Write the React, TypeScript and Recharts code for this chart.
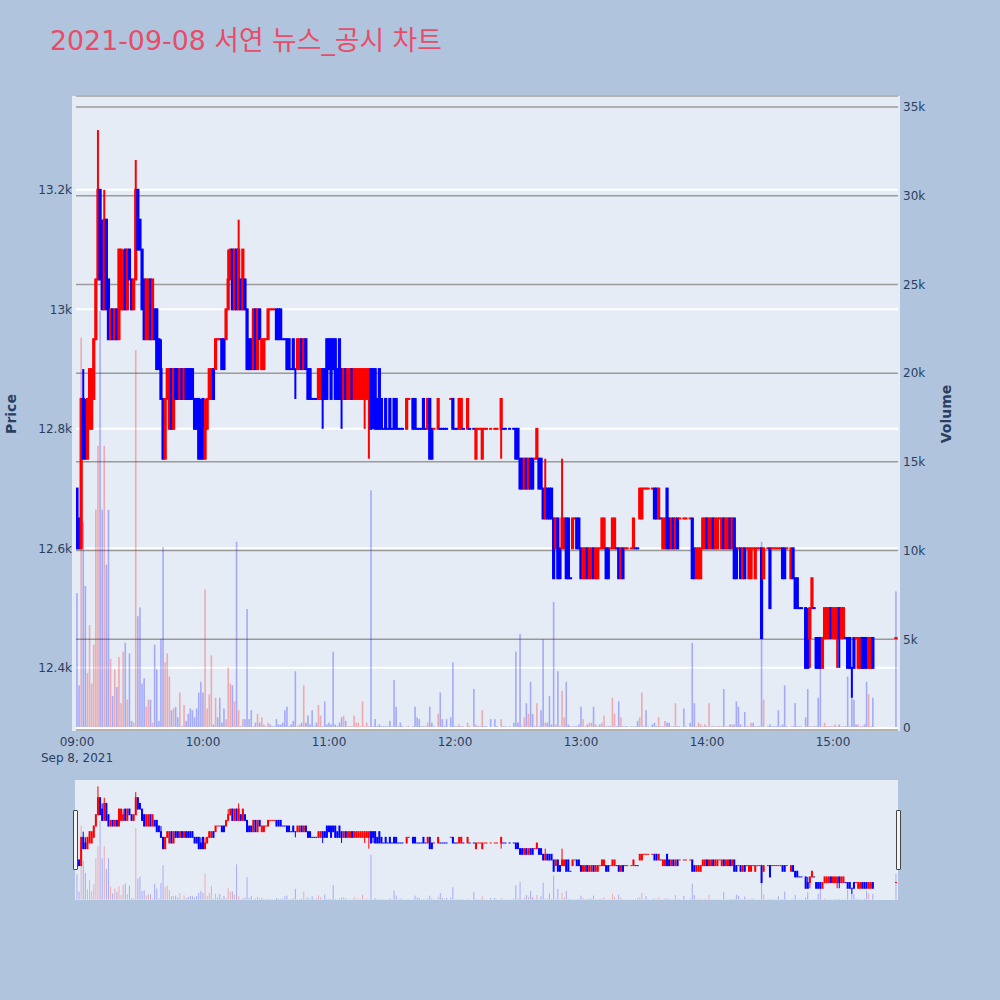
import React from 'react';
import { ComposedChart, Bar, XAxis, YAxis, CartesianGrid, ReferenceLine } from 'recharts';

// One row per minute: [open, high, low, close, volume]; null = no trade in that minute.
type Row = [number, number, number, number, number] | null;

const hour09: Row[] = [
  [12700,12700,12600,12600,7600],[12650,12650,12600,12600,2400],[12600,12850,12600,12850,22000],[12850,12900,12750,12750,11600],
  [12800,12850,12750,12750,8000],[12750,12850,12750,12850,3100],[12800,12900,12800,12900,5800],[12800,12900,12800,12900,2500],
  [12850,12950,12850,12950,4700],[12950,13050,12950,13050,12300],[13050,13300,13050,13200,15900],[13200,13200,13050,13050,23500],
  [13100,13150,13000,13000,12300],[13000,13200,13000,13150,15900],[13150,13150,13000,13000,9200],[13050,13050,12950,12950,12300],
  [12950,13000,12950,13000,3900],[13000,13000,12950,12950,1800],[12950,13000,12950,13000,3300],[13000,13000,12950,12950,2300],
  [12950,13100,12950,13100,4000],[13000,13100,13000,13100,1400],[13000,13100,13000,13050,4300],[13100,13100,13000,13000,4800],
  [13000,13100,13000,13100,1600],[13100,13100,13050,13050,4200],[13050,13050,13000,13000,400],[13000,13050,13000,13050,300],
  [13050,13250,13050,13200,21300],[13200,13200,13100,13100,6300],[13150,13150,13100,13100,6800],[13100,13100,13000,13000,2500],
  [13050,13050,12950,12950,2800],[12950,13050,12950,13050,1200],[12950,13050,12950,13050,1600],[13050,13050,12950,12950,1600],
  [12950,13050,12950,13050,300],[13000,13000,12950,12950,4700],[13000,13000,12900,12900,3300],[12950,12950,12900,12900,400],
  [12900,12950,12850,12850,5000],[12850,12850,12750,12750,10200],[12750,12850,12750,12850,3700],[12850,12900,12850,12900,4200],
  [12800,12900,12800,12900,2900],[12900,12900,12800,12800,1000],[12800,12900,12800,12900,1100],[12900,12900,12850,12850,1200],
  [12900,12900,12850,12850,600],[12850,12900,12850,12900,2000],[12900,12900,12850,12850,100],[12850,12900,12850,12900,1300],
  [12900,12900,12850,12850,400],[12900,12900,12850,12850,800],[12900,12900,12850,12850,1100],[12900,12900,12850,12850,1000],
  [12850,12850,12800,12800,600],[12850,12850,12800,12800,1100],[12850,12850,12750,12750,2000],[12800,12850,12750,12750,2600],
];

const hour10: Row[] = [
  [12850,12850,12750,12750,2000],[12750,12850,12750,12800,7800],[12800,12850,12800,12850,1100],[12850,12900,12850,12900,1900],
  [12850,12900,12850,12900,4100],[12900,12900,12850,12850,200],[12900,12950,12900,12950,1700],[12950,12950,12950,12950,600],
  [12950,12950,12950,12950,1700],[12950,12950,12900,12900,300],[12950,12950,12900,12900,1100],[12950,13000,12950,13000,500],
  [13000,13100,13000,13050,3400],[13050,13100,13050,13100,2500],[13100,13100,13000,13000,2400],[13000,13100,13000,13100,1500],
  [13100,13100,13000,13000,10500],[13000,13150,13000,13100,1000],[13050,13050,13000,13000,100],[13000,13100,13000,13100,500],
  [13050,13050,13000,13000,500],[13000,13000,12900,12900,6700],[12950,12950,12900,12900,500],[12950,12950,12900,12900,1000],
  [12900,13000,12900,13000,100],[13000,13000,12900,12900,300],[12900,13000,12900,13000,800],[13000,13000,12950,12950,300],
  [12900,12950,12900,12950,600],[12900,12950,12900,12950,200],[12950,12950,12950,12950,100],[12950,13000,12950,13000,300],
  [13000,13000,13000,13000,200],[13000,13000,13000,13000,100],[13000,13000,13000,13000,100],[13000,13000,12950,12950,500],
  [13000,13000,12950,12950,200],[13000,13000,12950,12950,200],[12950,12950,12950,12950,300],[12950,12950,12950,12950,1000],
  [12950,12950,12900,12900,1200],[12950,12950,12900,12900,100],[12900,12900,12900,12900,200],[12950,12950,12900,12900,400],
  [12900,12900,12850,12900,3200],[12900,12950,12900,12950,100],[12900,12950,12900,12950,200],[12950,12950,12900,12900,300],
  [12900,12950,12900,12950,2400],[12950,12950,12900,12900,300],[12900,12900,12850,12850,700],[12900,12900,12850,12850,200],
  [12850,12850,12850,12850,1000],[12850,12850,12850,12850,100],[12850,12850,12850,12850,300],[12850,12900,12850,12900,1300],
  [12850,12900,12850,12900,700],[12900,12900,12800,12850,100],[12900,12900,12850,12850,1500],[12950,12950,12850,12850,200],
];

const hour11: Row[] = [
  [12950,12950,12900,12900,300],[12950,12950,12850,12850,200],[12950,12950,12900,12900,4300],[12950,12950,12850,12850,200],
  [12900,12900,12850,12850,100],[12950,12950,12850,12850,300],[12900,12900,12800,12850,600],[12850,12900,12850,12900,700],
  [12900,12900,12850,12850,400],[12850,12900,12850,12900,100],[12850,12900,12850,12900,100],[12900,12900,12850,12850,100],
  [12850,12900,12850,12900,700],[12850,12900,12850,12900,300],[12850,12900,12850,12900,300],[12850,12900,12850,12900,100],
  [12850,12900,12850,12900,1500],[12850,12900,12800,12900,100],[12850,12900,12850,12900,300],[12850,12900,12750,12900,100],
  [12900,12900,12800,12800,13400],[12900,12900,12800,12850,100],[12900,12900,12800,12800,500],[12850,12850,12800,12800,100],
  [12900,12900,12800,12800,200],[12850,12850,12800,12800,100],[12800,12800,12800,12800,100],[12850,12850,12800,12800,100],
  [12800,12800,12800,12800,100],[12850,12850,12800,12800,400],[12800,12800,12800,12800,100],[12850,12850,12800,12800,2700],
  [12850,12850,12800,12800,1200],[12800,12800,12800,12800,100],[12800,12800,12800,12800,300],[12800,12800,12800,12800,100],
  null,[12800,12850,12800,12850,100],[12850,12850,12850,12850,100],null,
  [12850,12850,12800,12800,100],[12850,12850,12800,12800,1200],[12800,12800,12800,12800,600],[12800,12800,12800,12800,500],
  [12800,12800,12800,12800,100],[12850,12850,12800,12800,100],[12800,12800,12800,12800,100],[12800,12850,12800,12850,300],
  [12850,12850,12750,12750,1200],[12800,12800,12750,12750,300],[12800,12800,12800,12800,100],null,
  [12800,12850,12800,12850,800],[12800,12800,12800,12800,2000],[12800,12800,12800,12800,500],[12800,12800,12800,12800,100],
  [12800,12800,12800,12800,500],null,[12850,12850,12850,12850,600],[12850,12850,12800,12800,3700],
];

const hour12: Row[] = [
  [12800,12800,12800,12800,100],[12800,12800,12800,12800,100],[12800,12850,12800,12850,200],[12800,12850,12800,12850,100],
  [12800,12800,12800,12800,100],null,[12800,12850,12800,12850,300],[12800,12800,12800,12800,100],
  null,[12800,12800,12800,12800,2200],[12750,12800,12750,12800,200],[12800,12800,12800,12800,100],
  [12800,12800,12800,12800,100],[12750,12800,12750,12800,1000],[12800,12800,12800,12800,100],[12800,12800,12800,12800,100],
  null,[12800,12800,12800,12800,500],null,[12800,12800,12800,12800,500],
  [12800,12800,12800,12800,100],null,[12800,12850,12750,12850,500],[12800,12800,12800,12800,100],
  [12800,12800,12800,12800,100],null,[12800,12800,12800,12800,100],null,
  [12800,12800,12800,12800,300],[12800,12800,12750,12750,4300],[12800,12800,12750,12750,300],[12750,12750,12700,12700,5300],
  [12750,12750,12700,12700,100],[12700,12750,12700,12750,600],[12750,12750,12700,12700,1400],[12700,12750,12700,12750,800],
  [12750,12750,12700,12700,2600],[12750,12750,12700,12700,800],[12750,12750,12750,12750,100],[12750,12800,12750,12800,1400],
  [12750,12750,12700,12700,100],[12750,12750,12700,12700,1000],[12700,12700,12650,12650,5000],[12650,12750,12650,12700,300],
  [12700,12700,12650,12650,300],[12700,12700,12650,12650,1800],[12700,12700,12650,12650,200],[12650,12650,12550,12550,7100],
  [12600,12650,12600,12650,200],[12650,12650,12550,12550,3200],[12600,12600,12550,12550,100],[12600,12750,12600,12650,2100],
  [12600,12650,12600,12650,600],[12650,12650,12550,12550,2600],[12650,12650,12550,12550,200],[12550,12550,12550,12550,100],
  [12600,12650,12600,12650,100],[12650,12650,12650,12650,100],[12650,12650,12600,12600,100],[12650,12650,12600,12600,200],
];

const hour13: Row[] = [
  [12600,12600,12550,12550,1200],[12550,12600,12550,12600,500],[12550,12600,12550,12600,100],[12600,12600,12550,12550,200],
  [12550,12600,12550,12600,300],[12550,12600,12550,12600,300],[12600,12600,12550,12550,1200],[12550,12600,12550,12600,200],
  [12550,12600,12550,12600,100],[12600,12600,12600,12600,200],[12600,12650,12600,12650,300],[12600,12650,12600,12650,700],
  [12600,12600,12550,12550,100],[12600,12600,12550,12550,100],[12600,12600,12600,12600,100],[12600,12650,12600,12650,1700],
  [12600,12650,12600,12650,800],[12600,12600,12600,12600,100],[12600,12600,12550,12550,1500],[12550,12600,12550,12600,600],
  [12600,12600,12550,12550,100],[12600,12600,12600,12600,100],[12600,12600,12600,12600,100],null,
  [12600,12600,12600,12600,100],[12600,12650,12600,12650,100],[12600,12600,12600,12600,100],[12600,12600,12600,12600,400],
  [12650,12700,12650,12700,600],[12650,12700,12650,12700,2000],[12700,12700,12700,12700,100],[12700,12700,12700,12700,1000],
  [12700,12700,12700,12700,100],null,[12700,12700,12700,12700,200],[12700,12700,12650,12650,300],
  [12700,12700,12650,12650,100],[12650,12700,12650,12700,600],[12650,12650,12650,12650,100],[12600,12650,12600,12650,100],
  [12600,12650,12600,12650,400],[12700,12700,12600,12600,300],[12650,12650,12600,12600,300],[12600,12650,12600,12650,100],
  [12650,12650,12600,12600,100],[12600,12650,12600,12650,1400],[12650,12650,12600,12600,100],[12650,12650,12650,12650,100],
  null,[12650,12650,12650,12650,1100],[12650,12650,12650,12650,100],null,
  [12650,12650,12650,12650,300],[12650,12650,12550,12550,4800],[12600,12600,12550,12550,1400],[12550,12600,12550,12600,100],
  [12550,12600,12550,12600,300],[12550,12600,12550,12600,200],[12600,12650,12600,12650,100],[12600,12650,12600,12650,200],
];

const hour14: Row[] = [
  [12650,12650,12600,12600,100],[12600,12650,12600,12650,1400],[12600,12650,12600,12650,100],[12650,12650,12600,12600,100],
  [12600,12650,12600,12650,100],[12600,12650,12600,12650,100],[12650,12650,12650,12650,100],[12600,12650,12600,12650,100],
  [12650,12650,12600,12600,2200],[12600,12650,12600,12650,100],[12600,12650,12600,12650,100],[12650,12650,12600,12600,200],
  [12600,12650,12600,12650,200],[12650,12650,12550,12550,200],[12600,12600,12550,12550,1500],[12600,12600,12600,12600,1200],
  [12600,12600,12550,12550,200],[12550,12600,12550,12600,100],[12600,12600,12550,12550,900],[12600,12600,12600,12600,100],
  [12550,12600,12550,12600,100],[12550,12600,12550,12600,300],[12600,12600,12600,12600,300],[12550,12600,12550,12600,100],
  [12600,12600,12600,12600,100],[12600,12600,12600,12600,100],[12600,12600,12450,12450,10500],[12550,12600,12550,12600,1600],
  null,[12600,12600,12600,12600,100],[12600,12600,12500,12500,200],[12600,12600,12600,12600,100],
  [12600,12600,12600,12600,100],[12600,12600,12600,12600,100],[12600,12600,12600,12600,1000],[12600,12600,12600,12600,100],
  [12600,12600,12550,12550,200],[12600,12600,12550,12550,2400],[12600,12600,12600,12600,100],null,
  [12550,12600,12550,12600,100],[12600,12600,12550,12550,100],[12550,12550,12500,12500,1400],[12550,12550,12500,12500,100],
  [12500,12500,12500,12500,100],[12500,12500,12500,12500,100],null,[12500,12500,12400,12400,600],
  [12450,12500,12400,12400,2200],[12450,12500,12400,12500,100],[12500,12550,12500,12550,100],[12500,12500,12500,12500,100],
  [12450,12450,12400,12400,100],[12450,12450,12400,12400,1700],[12450,12450,12400,12400,5000],[12400,12450,12400,12450,100],
  [12450,12500,12450,12500,300],[12450,12500,12450,12500,100],[12450,12500,12450,12500,100],[12500,12500,12450,12450,100],
];

const hour15: Row[] = [
  [12450,12500,12450,12500,100],[12450,12500,12450,12500,200],[12450,12500,12400,12500,100],[12500,12500,12400,12450,200],
  [12450,12500,12450,12500,100],[12450,12500,12450,12500,100],[12450,12450,12450,12450,100],[12450,12450,12400,12400,2900],
  [12450,12450,12400,12400,100],[12400,12400,12350,12400,3400],[12450,12450,12400,12400,1600],[12450,12450,12450,12450,200],
  [12400,12450,12400,12450,200],[12400,12450,12400,12450,100],[12450,12450,12400,12400,100],[12450,12450,12400,12400,200],
  [12450,12450,12400,12400,2600],[12400,12450,12400,12450,1900],[12400,12450,12400,12450,100],[12450,12450,12400,12400,1700],
  null,null,null,null,null,null,null,null,null,null,
  [12450,12450,12450,12450,7700],
];

const sessionHours: Row[][] = [hour09, hour10, hour11, hour12, hour13, hour14, hour15];
const hourTicks = [0, 60, 120, 180, 240, 300, 360];
const hourLabels = ['09:00', '10:00', '11:00', '12:00', '13:00', '14:00', '15:00'];
const dateLabel = 'Sep 8, 2021';
const priceTicks = [12400, 12600, 12800, 13000, 13200];
const volumeTicks = [0, 5000, 10000, 15000, 20000, 25000, 30000, 35000];
const titleText = '2021-09-08 서연 뉴스_공시 차트';

const timeDomain: [number, number] = [-0.48, 390.95];
const priceDomain: [number, number] = [12296, 13357];
const volumeDomain: [number, number] = [-113, 35620];

const UP = '#ff0000';
const DOWN = '#0000ff';
const INK = '#2a3f5f';
const FONT = '"DejaVu Sans", Verdana, "Noto Sans CJK KR", sans-serif';

type Point = {
  t: number;
  o?: number; h?: number; l?: number; c?: number; v?: number;
  range?: [number, number];
  up?: boolean;
  volUp?: boolean;
};

// Flat candles take their colour from the previous close, like a plotly candlestick.
function buildPoints(): Point[] {
  const out: Point[] = [];
  let prevClose: number | null = null;
  let prevUp = false;
  sessionHours.forEach((rows, hi) => {
    rows.forEach((row, mi) => {
      const t = hi * 60 + mi;
      if (!row) { out.push({ t }); return; }
      const [o, h, l, c, v] = row;
      let up: boolean;
      if (c > o) up = true;
      else if (c < o) up = false;
      else if (prevClose === null) up = false;
      else if (c > prevClose) up = true;
      else if (c < prevClose) up = false;
      else up = prevUp;
      prevClose = c;
      prevUp = up;
      out.push({ t, o, h, l, c, v, range: [l, h], up, volUp: c > o });
    });
  });
  return out;
}

const points = buildPoints();

const makeCandle = (bodyW: number, wickW: number, edge: number) => (props: any) => {
  const { x, y, width, height, payload } = props;
  if (!payload || payload.o == null) return <g />;
  const cx = x + width / 2;
  const top = Math.min(y, y + height);
  const bot = Math.max(y, y + height);
  const span = payload.h - payload.l;
  const toPx = (v: number) => (span > 0 ? top + ((payload.h - v) / span) * (bot - top) : top);
  const color = payload.up ? UP : DOWN;
  const yo = toPx(payload.o);
  const yc = toPx(payload.c);
  const bTop = Math.min(yo, yc) - edge / 2;
  const bH = Math.abs(yo - yc) + edge;
  return (
    <g>
      {bot > top && <line x1={cx} x2={cx} y1={top} y2={bot} stroke={color} strokeWidth={wickW} />}
      <rect x={cx - bodyW / 2} y={bTop} width={bodyW} height={bH} fill={color} />
    </g>
  );
};

const makeVolume = (w: number) => (props: any) => {
  const { x, y, width, height, payload } = props;
  if (!payload || payload.v == null) return <g />;
  const cx = x + width / 2;
  const top = Math.min(y, y + height);
  return (
    <rect x={cx - w / 2} y={top} width={w} height={Math.abs(height)}
      fill={payload.volUp ? UP : DOWN} fillOpacity={0.28} />
  );
};

const mainCandle = makeCandle(3.2, 2, 2);
const mainVolume = makeVolume(1.6);
const miniCandle = makeCandle(2, 1, 1);
const miniVolume = makeVolume(1);

const TimeTick = (props: any) => {
  const { x, y, payload } = props;
  const idx = hourTicks.indexOf(payload.value);
  return (
    <g>
      <text x={x} y={y} dy="0.71em" textAnchor="middle" fill={INK} fontSize={12} fontFamily={FONT}>
        {idx >= 0 ? hourLabels[idx] : ''}
      </text>
      {payload.value === 0 && (
        <text x={x} y={y + 16} dy="0.71em" textAnchor="middle" fill={INK} fontSize={12} fontFamily={FONT}>
          {dateLabel}
        </text>
      )}
    </g>
  );
};

const kFormat = (v: number) => (v === 0 ? '0' : `${v / 1000}k`);
const tickStyle = { fontSize: 12, fill: INK, fontFamily: FONT };

const layer = (top: number): React.CSSProperties => ({ position: 'absolute', left: 0, top });

export default function App() {
  const plotMargin = { top: 96, right: 102, bottom: 50, left: 76 };
  const miniMargin = { top: 0, right: 102, bottom: 0, left: 76 };
  return (
    <div style={{ position: 'absolute', left: 0, top: 0, width: 1000, height: 1000, background: '#b0c4de', overflow: 'hidden' }}>
      <svg width={1000} height={1000} style={{ position: 'absolute', left: 0, top: 0 }}>
        <rect x={72} y={96} width={828} height={635} fill="#e5ecf6" />
        <rect x={75} y={780} width={823} height={120} fill="#e5ecf6" />
        <text x={50} y={50} fill="#e84c68" fontSize={26.8} fontFamily={FONT}>{titleText}</text>
        <text x={11} y={414} transform="rotate(-90 11 414)" textAnchor="middle" dominantBaseline="central"
          fill={INK} fontSize={14} fontWeight="bold" fontFamily={FONT}>Price</text>
        <text x={946} y={414} transform="rotate(-90 946 414)" textAnchor="middle" dominantBaseline="central"
          fill={INK} fontSize={14} fontWeight="bold" fontFamily={FONT}>Volume</text>
      </svg>

      {/* axes, grids and volume bars */}
      <div style={layer(0)}>
        <ComposedChart width={1000} height={780} data={points} margin={{ top: 96, right: 0, bottom: 0, left: 0 }}>
          <XAxis type="number" dataKey="t" domain={timeDomain} ticks={hourTicks} interval={0}
            allowDataOverflow height={50} tickSize={0} tickMargin={7} axisLine={false} tickLine={false}
            tick={TimeTick} />
          <YAxis yAxisId="price" orientation="left" type="number" domain={priceDomain} ticks={priceTicks}
            allowDataOverflow width={76} tickSize={0} tickMargin={4} axisLine={false} tickLine={false}
            tick={tickStyle} tickFormatter={kFormat} />
          <YAxis yAxisId="vol" orientation="right" type="number" domain={volumeDomain} ticks={volumeTicks}
            allowDataOverflow width={102} tickSize={0} tickMargin={5} axisLine={false} tickLine={false}
            tick={tickStyle} tickFormatter={kFormat} />
          <CartesianGrid yAxisId="price" vertical={false} stroke="#ffffff" strokeWidth={2} />
          <CartesianGrid yAxisId="vol" vertical={false} stroke="#9a9a9a" strokeWidth={1.5} />
          <ReferenceLine yAxisId="vol" y={0} stroke="#ffffff" strokeWidth={2} />
          <Bar yAxisId="vol" dataKey="v" barSize={2} shape={mainVolume} isAnimationActive={false} />
        </ComposedChart>
      </div>

      {/* price candles */}
      <div style={layer(0)}>
        <ComposedChart width={1000} height={780} data={points} margin={plotMargin}>
          <XAxis type="number" dataKey="t" domain={timeDomain} allowDataOverflow hide />
          <YAxis yAxisId="price" type="number" domain={priceDomain} allowDataOverflow hide />
          <Bar yAxisId="price" dataKey="range" barSize={2} shape={mainCandle} isAnimationActive={false} />
        </ComposedChart>
      </div>

      {/* range slider overview */}
      <div style={layer(780)}>
        <ComposedChart width={1000} height={120} data={points} margin={miniMargin}>
          <XAxis type="number" dataKey="t" domain={timeDomain} allowDataOverflow hide />
          <YAxis yAxisId="vol" type="number" domain={volumeDomain} allowDataOverflow hide />
          <Bar yAxisId="vol" dataKey="v" barSize={2} shape={miniVolume} isAnimationActive={false} />
        </ComposedChart>
      </div>
      <div style={layer(780)}>
        <ComposedChart width={1000} height={120} data={points} margin={miniMargin}>
          <XAxis type="number" dataKey="t" domain={timeDomain} allowDataOverflow hide />
          <YAxis yAxisId="price" type="number" domain={priceDomain} allowDataOverflow hide />
          <Bar yAxisId="price" dataKey="range" barSize={2} shape={miniCandle} isAnimationActive={false} />
        </ComposedChart>
      </div>
      <div style={{ position: 'absolute', left: 73, top: 810, width: 3, height: 58, background: '#f4f4f4', border: '1px solid #444', borderRadius: 1 }} />
      <div style={{ position: 'absolute', left: 896, top: 810, width: 3, height: 58, background: '#f4f4f4', border: '1px solid #444', borderRadius: 1 }} />
    </div>
  );
}
